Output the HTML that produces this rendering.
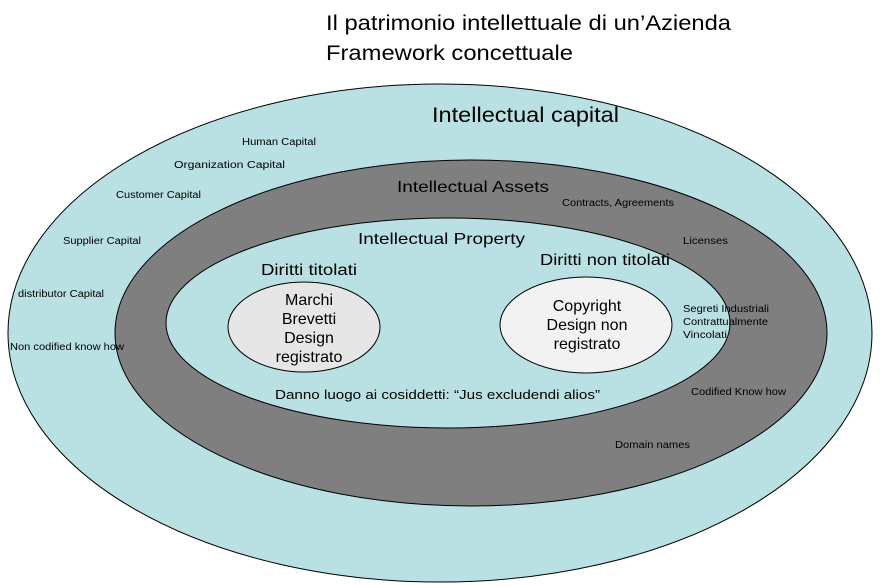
<!DOCTYPE html>
<html><head><style>
html,body{margin:0;padding:0;background:#fff;}
svg{display:block;font-family:"Liberation Sans",sans-serif;}
</style></head><body>
<svg width="880" height="586" viewBox="0 0 880 586" xmlns="http://www.w3.org/2000/svg">
<text x="326" y="30" font-size="21" textLength="405" lengthAdjust="spacingAndGlyphs">Il patrimonio intellettuale di un’Azienda</text>
<text x="326" y="60" font-size="21" textLength="247" lengthAdjust="spacingAndGlyphs">Framework concettuale</text>
<ellipse cx="440" cy="333" rx="432" ry="249" fill="#b9e0e3" stroke="#000" stroke-width="1"/>
<ellipse cx="471" cy="333" rx="356" ry="173" fill="#7f7f7f" stroke="#000" stroke-width="1"/>
<ellipse cx="448" cy="323" rx="282" ry="105" fill="#b9e0e3" stroke="#000" stroke-width="1"/>
<ellipse cx="304" cy="327" rx="76" ry="45" fill="#e6e6e6" stroke="#000" stroke-width="1"/>
<ellipse cx="586" cy="325" rx="86" ry="48" fill="#f2f2f2" stroke="#000" stroke-width="1"/>
<text x="432" y="122" font-size="21" textLength="187" lengthAdjust="spacingAndGlyphs">Intellectual capital</text>
<text x="397" y="192" font-size="16" textLength="152" lengthAdjust="spacingAndGlyphs">Intellectual Assets</text>
<text x="358" y="244" font-size="16" textLength="167" lengthAdjust="spacingAndGlyphs">Intellectual Property</text>
<text x="261" y="275" font-size="16" textLength="96" lengthAdjust="spacingAndGlyphs">Diritti titolati</text>
<text x="540" y="265" font-size="16" textLength="130" lengthAdjust="spacingAndGlyphs">Diritti non titolati</text>
<g font-size="16" text-anchor="middle">
<text x="309" y="305">Marchi</text>
<text x="309" y="324">Brevetti</text>
<text x="309" y="343">Design</text>
<text x="309" y="362">registrato</text>
<text x="587" y="311">Copyright</text>
<text x="587" y="330">Design non</text>
<text x="587" y="349">registrato</text>
</g>
<text x="275" y="399" font-size="13" textLength="325" lengthAdjust="spacingAndGlyphs">Danno luogo ai cosiddetti: “Jus excludendi alios”</text>
<g font-size="10" lengthAdjust="spacingAndGlyphs">
<text x="242" y="145" textLength="74" lengthAdjust="spacingAndGlyphs">Human Capital</text>
<text x="174" y="168" textLength="111" lengthAdjust="spacingAndGlyphs">Organization Capital</text>
<text x="116" y="198" textLength="85" lengthAdjust="spacingAndGlyphs">Customer Capital</text>
<text x="63" y="244" textLength="78" lengthAdjust="spacingAndGlyphs">Supplier Capital</text>
<text x="18" y="297" textLength="86" lengthAdjust="spacingAndGlyphs">distributor Capital</text>
<text x="10" y="350" textLength="114" lengthAdjust="spacingAndGlyphs">Non codified know how</text>
<text x="562" y="206" textLength="112" lengthAdjust="spacingAndGlyphs">Contracts, Agreements</text>
<text x="683" y="244" textLength="45" lengthAdjust="spacingAndGlyphs">Licenses</text>
<text x="683" y="312" textLength="86" lengthAdjust="spacingAndGlyphs">Segreti Industriali</text>
<text x="683" y="325" textLength="85" lengthAdjust="spacingAndGlyphs">Contrattualmente</text>
<text x="683" y="338" textLength="44" lengthAdjust="spacingAndGlyphs">Vincolati</text>
<text x="691" y="395" textLength="95" lengthAdjust="spacingAndGlyphs">Codified Know how</text>
<text x="615" y="448" textLength="75" lengthAdjust="spacingAndGlyphs">Domain names</text>
</g>
</svg>
</body></html>
